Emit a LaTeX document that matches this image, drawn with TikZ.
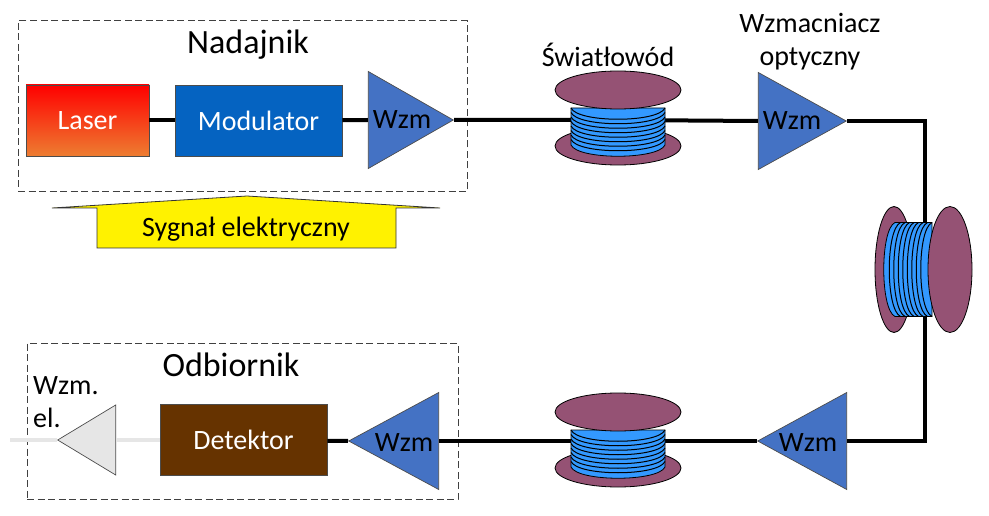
\documentclass[tikz,border=0pt]{standalone}
\usepackage{fontspec}
\setmainfont{Carlito}
\usetikzlibrary{shapes.geometric}
\definecolor{flange}{HTML}{955274}
\definecolor{wire}{HTML}{3399FF}
\definecolor{amp}{HTML}{4472C4}
\definecolor{modblue}{HTML}{0563C1}
\definecolor{detbrown}{HTML}{663300}
\definecolor{elgray}{HTML}{E6E6E6}
\definecolor{lasorange}{HTML}{ED7D31}
\begin{document}
\begin{tikzpicture}[x=1pt,y=-1pt,font=\fontsize{28}{33}\selectfont,
  fib/.style={line width=4pt},
  elfib/.style={line width=4pt,color=elgray},
  frame/.style={draw=black!75,line width=1pt,dash pattern=on 7pt off 3.5pt},
  block/.style={draw=black!70,line width=.8pt,minimum height=71pt,text=white,inner sep=0pt},
  wzm/.style={isosceles triangle,isosceles triangle apex angle=60,isosceles triangle stretches,
    draw=black!70,line width=.7pt,fill=amp,inner sep=0pt,anchor=apex},
  lbl/.style={inner sep=0pt},
  title/.style={lbl,font=\fontsize{34}{40}\selectfont},
  pics/spool/.style={code={
    \draw[fill=flange,line width=.8pt] (0,28) ellipse (63 and 19);
    \draw[fill=wire,line width=.8pt] (-47,-10) -- (47,-10) -- (47,27)
      .. controls (40,42) and (-40,42) .. (-47,27) -- cycle;
    \foreach \w in {-10,-5.5,...,22}
      \draw[line width=1pt] (-47,\w) .. controls (-40,\w+15) and (40,\w+15) .. (47,\w);
    \draw[fill=flange,line width=.8pt] (0,-28) ellipse (63 and #1);
  }}]
\useasboundingbox (0,0) rectangle (989,516);
% frames
\node[frame,minimum width=449pt,minimum height=171pt,inner sep=0pt] (tx) at (242.5,106.5) {};
\node[frame,minimum width=431pt,minimum height=156pt,inner sep=0pt] (rx) at (242.5,421) {};
\node[title] (txname) at (248,45) {Nadajnik};
\node[title] (rxname) at (231,365) {Odbiornik};
% blocks
\node[block,minimum width=123pt,top color=red,bottom color=lasorange] (laser) at (87.5,120.5) {Laser};
\node[block,minimum width=167pt,fill=modblue] (mod) at (258.5,120.5) {Modulator};
\node[block,minimum width=167pt,fill=detbrown] (det) at (243.5,440) {\raisebox{-2pt}{Detektor}};
% amplifiers
\foreach \name/\x/\y/\rot/\tipw/\tx/\ty in {wzm1/454/120/0/85/402/120,wzm2/847/121/0/88/792/121,wzm3/757/441/180/89/808/443,wzm4/348/441/180/90/404/443}
  {\node[wzm,shape border rotate=\rot,minimum height=\tipw pt,minimum width=97pt] (\name) at (\x,\y) {};
   \node[lbl] (\name txt) at (\tx,\ty) {Wzm};}
\node[wzm,shape border rotate=180,minimum height=58pt,minimum width=70pt,fill=elgray] (wzm5) at (57,440) {};
% spool positions
\coordinate (sp1) at (618,120);
\coordinate (sp2) at (925,270);
\coordinate (sp3) at (618,441);
\coordinate (elout) at (10,440);
% connectors
\draw[fib] (laser) -- (mod);
\draw[fib] (mod) -- (wzm1.lower side);
\draw[fib] (wzm1.apex) -- (sp1) -- (wzm2.lower side);
\draw[fib] (wzm2.apex) -| (sp2) |- (wzm3.lower side);
\draw[fib] (wzm3.apex) -- (sp3) -- (wzm4.lower side);
\draw[fib] (wzm4.apex) -- (det);
\draw[elfib] (det) -- (wzm5.lower side);
\draw[elfib] (wzm5.apex) -- (elout);
% spools
\pic at (618,118) {spool=19};
\pic[rotate=-90] at (922,269.5) {spool=22};
\pic at (618,440) {spool=19};
% texts
\node[lbl] (fibname) at (608,55) {Światłowód};
\node[lbl,align=center] (ampname) at (810,42) {Wzmacniacz\\optyczny};
\node[lbl,align=left,anchor=north west] (elname) at (33,376) {Wzm.\\el.};
% signal arrow
\draw[draw=black!80,fill=yellow,line width=.8pt] (97,248) -- (97,208) -- (52,208) -- (247,196) -- (440,208) -- (396,208) -- (396,248) -- cycle;
\node[lbl] (sig) at (246,229) {Sygnał elektryczny};
\end{tikzpicture}
\end{document}
